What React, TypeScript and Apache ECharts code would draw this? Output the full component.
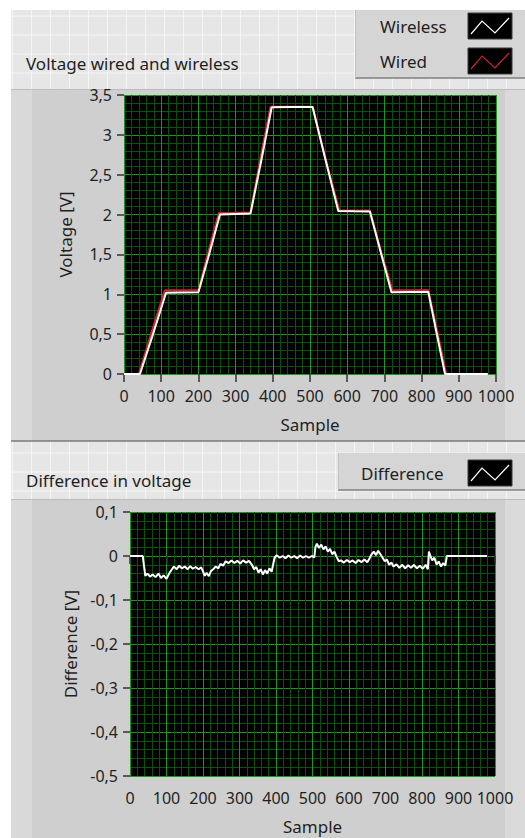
import React, { useEffect, useRef } from "react";
import * as echarts from "echarts";

// Sample index vs. measured voltage for the two channels
const wirelessVoltage: [number, number][] = [
  [0, 0], [43, 0], [78, 0.5], [113, 1.02], [150, 1.022], [200, 1.025],
  [230, 1.52], [258, 2.0], [300, 2.008], [340, 2.012], [370, 2.7],
  [397, 3.345], [450, 3.348], [507, 3.35], [540, 2.72], [576, 2.045],
  [620, 2.042], [661, 2.04], [690, 1.53], [719, 1.025], [770, 1.028],
  [818, 1.03], [840, 0.52], [863, 0], [920, 0], [978, 0],
];

const wiredVoltage: [number, number][] = [
  [0, 0], [40, 0], [75, 0.54], [110, 1.05], [150, 1.05], [200, 1.052],
  [228, 1.56], [255, 2.02], [300, 2.022], [340, 2.025], [368, 2.74],
  [394, 3.352], [450, 3.352], [507, 3.352], [542, 2.7], [579, 2.05],
  [620, 2.05], [661, 2.05], [692, 1.52], [722, 1.05], [770, 1.052],
  [818, 1.055], [842, 0.54], [866, 0], [920, 0], [978, 0],
];

// Wireless minus wired, per sample
const voltageDifference: [number, number][] = [
  [0, 0], [35, 0], [38, -0.02], [42, -0.045], [48, -0.04], [55, -0.047],
  [62, -0.042], [70, -0.048], [78, -0.04], [85, -0.05], [92, -0.044],
  [100, -0.052], [106, -0.042], [110, -0.036], [115, -0.03], [120, -0.024],
  [128, -0.03], [135, -0.022], [142, -0.028], [150, -0.024], [158, -0.03],
  [165, -0.023], [172, -0.029], [180, -0.025], [188, -0.03], [195, -0.026],
  [200, -0.035], [205, -0.045], [210, -0.038], [216, -0.046], [222, -0.034],
  [228, -0.03], [235, -0.024], [242, -0.028], [248, -0.018], [255, -0.022],
  [262, -0.012], [270, -0.016], [278, -0.01], [286, -0.016], [294, -0.011],
  [302, -0.017], [310, -0.01], [318, -0.015], [326, -0.011], [334, -0.02],
  [340, -0.03], [346, -0.025], [352, -0.038], [358, -0.03], [364, -0.042],
  [370, -0.032], [376, -0.04], [382, -0.028], [388, -0.036], [392, -0.02],
  [396, -0.004], [402, 0.002], [410, -0.004], [418, 0], [426, -0.005],
  [434, 0.001], [442, -0.004], [450, 0], [458, -0.005], [466, 0.001],
  [474, -0.004], [482, 0], [490, -0.004], [498, 0], [505, -0.003],
  [508, 0.02], [512, 0.028], [518, 0.018], [524, 0.026], [530, 0.015],
  [536, 0.022], [542, 0.01], [548, 0.016], [554, 0.004], [560, 0.01],
  [566, -0.002], [572, -0.012], [578, -0.01], [586, -0.015], [594, -0.009],
  [602, -0.014], [610, -0.01], [618, -0.016], [626, -0.009], [634, -0.014],
  [642, -0.008], [650, -0.014], [656, -0.006], [662, 0.004], [668, 0.01],
  [674, 0.002], [680, 0.012], [686, 0.004], [692, -0.004], [698, -0.012],
  [704, -0.008], [710, -0.02], [716, -0.015], [722, -0.024], [730, -0.019],
  [738, -0.027], [746, -0.02], [754, -0.028], [762, -0.021], [770, -0.027],
  [778, -0.02], [786, -0.028], [794, -0.022], [802, -0.029], [810, -0.02],
  [816, -0.03], [819, 0.01], [823, 0], [828, -0.01], [834, -0.004],
  [840, -0.02], [846, -0.012], [852, -0.024], [858, -0.016], [864, -0.022],
  [868, 0], [978, 0],
];

const FONT = '"Noto Sans", "DejaVu Sans", sans-serif';
const W = 525;
const H = 838;
const TEXT = "#1f1f1f";
const MAJOR_GRID = "#1e961e";
const MINOR_GRID = "#0b500b";
const TITLE_SIZE = 17;
const TICK_SIZE = 16;

const decimalComma = (v: number) =>
  v === 0 ? "0" : String(+v.toFixed(2)).replace(".", ",");

function xAxisFor(gridIndex: number) {
  return {
    type: "value",
    gridIndex,
    min: 0,
    max: 1000,
    interval: 100,
    offset: 4,
    name: "Sample",
    nameLocation: "middle",
    nameGap: 38,
    nameTextStyle: { fontFamily: FONT, fontSize: TITLE_SIZE, color: TEXT },
    axisLine: { show: false },
    axisTick: { show: true, length: 8, lineStyle: { color: "#333", width: 1.5 } },
    axisLabel: {
      margin: 10,
      fontFamily: FONT,
      fontSize: TICK_SIZE,
      color: TEXT,
      formatter: (v: number) => String(v),
      hideOverlap: false,
      showMinLabel: true,
      showMaxLabel: true,
    },
    splitLine: { show: true, lineStyle: { color: MAJOR_GRID, width: 1 } },
    minorTick: { show: false, splitNumber: 5 },
    minorSplitLine: { show: true, lineStyle: { color: MINOR_GRID, width: 1 } },
  };
}

function yAxisFor(gridIndex: number, name: string, min: number, max: number, interval: number) {
  return {
    type: "value",
    gridIndex,
    min,
    max,
    interval,
    offset: 2,
    name,
    nameLocation: "middle",
    nameGap: 48,
    nameTextStyle: { fontFamily: FONT, fontSize: TITLE_SIZE, color: TEXT },
    axisLine: { show: false },
    axisTick: { show: true, length: 7, lineStyle: { color: "#333", width: 1.5 } },
    axisLabel: {
      margin: 10,
      fontFamily: FONT,
      fontSize: TICK_SIZE,
      color: TEXT,
      formatter: decimalComma,
      showMinLabel: true,
      showMaxLabel: true,
    },
    splitLine: { show: true, lineStyle: { color: MAJOR_GRID, width: 1 } },
    minorTick: { show: false, splitNumber: 5 },
    minorSplitLine: { show: true, lineStyle: { color: MINOR_GRID, width: 1 } },
  };
}

function panelGraphics() {
  const els: any[] = [];
  // front panel background with its alignment grid
  els.push({ type: "rect", z: -30, shape: { x: 11, y: 10, width: W - 11, height: H - 10 }, style: { fill: "#e6e6e6" } });
  for (let x = 12.5; x < W; x += 19) {
    els.push({ type: "line", z: -29, shape: { x1: x, y1: 10, x2: x, y2: H }, style: { stroke: "#f5f5f5", lineWidth: 1 } });
  }
  for (let y = 16; y < H; y += 19) {
    els.push({ type: "line", z: -29, shape: { x1: 11, y1: y, x2: W, y2: y }, style: { stroke: "#f5f5f5", lineWidth: 1 } });
  }

  // graph frames
  const frame = (top: number, bottom: number) => {
    els.push({ type: "rect", z: -20, shape: { x: 11, y: top, width: W - 11, height: bottom - top }, style: { fill: "#cfcfcf" } });
    els.push({ type: "rect", z: -19, shape: { x: 11, y: top, width: 21, height: bottom - top }, style: { fill: "#d9d9d9" } });
    els.push({ type: "rect", z: -19, shape: { x: 505, y: top, width: 20, height: bottom - top }, style: { fill: "#dadada" } });
    els.push({ type: "line", z: -18, shape: { x1: 11, y1: top + 0.5, x2: W, y2: top + 0.5 }, style: { stroke: "#bcbcbc", lineWidth: 1 } });
    if (bottom < H) {
      els.push({ type: "line", z: -18, shape: { x1: 11, y1: bottom, x2: W, y2: bottom }, style: { stroke: "#7a7a7a", lineWidth: 1.5 } });
    }
  };
  frame(89, 441);
  frame(499, H);

  // plot legends
  const legendBox = (x: number, y: number, h: number) => {
    els.push({ type: "rect", z: -15, shape: { x, y, width: W - x, height: h }, style: { fill: "#d5d5d5" } });
    els.push({ type: "line", z: -14, shape: { x1: x, y1: y + h, x2: W, y2: y + h }, style: { stroke: "#7f7f7f", lineWidth: 1.5 } });
    els.push({ type: "line", z: -14, shape: { x1: x + 0.5, y1: y, x2: x + 0.5, y2: y + h }, style: { stroke: "#c2c2c2", lineWidth: 1 } });
  };
  const legendEntry = (label: string, textX: number, top: number, color: string) => {
    els.push({
      type: "text", z: 20, x: textX, y: top + 13,
      style: { text: label, fontFamily: FONT, fontSize: TITLE_SIZE, fill: TEXT, verticalAlign: "middle", align: "left" },
    });
    els.push({ type: "rect", z: 20, shape: { x: 468, y: top, width: 44, height: 26 }, style: { fill: "#000", stroke: "#3a3a3a", lineWidth: 1 } });
    els.push({
      type: "polyline", z: 21,
      shape: { points: [[471, top + 21], [482, top + 8], [495, top + 20], [509, top + 5]] },
      style: { stroke: color, lineWidth: 1.2, fill: "none" },
    });
  };
  legendBox(355, 10, 68);
  legendEntry("Wireless", 380, 13, "#ffffff");
  legendEntry("Wired", 380, 48, "#d2202c");
  legendBox(338, 453, 37);
  legendEntry("Difference", 361, 460, "#ffffff");

  // graph captions
  els.push({ type: "text", z: 20, x: 26, y: 63, style: { text: "Voltage wired and wireless", fontFamily: FONT, fontSize: TITLE_SIZE, fill: TEXT, verticalAlign: "middle" } });
  els.push({ type: "text", z: 20, x: 26, y: 480, style: { text: "Difference in voltage", fontFamily: FONT, fontSize: TITLE_SIZE, fill: TEXT, verticalAlign: "middle" } });
  return els;
}

export default function App() {
  const ref = useRef<HTMLDivElement>(null);

  useEffect(() => {
    if (!ref.current) return;
    const chart = echarts.init(ref.current, undefined, { renderer: "svg" });
    chart.setOption({
      animation: false,
      backgroundColor: "#ffffff",
      graphic: { elements: panelGraphics() },
      grid: [
        { left: 124, right: W - 496, top: 95, height: 279, show: true, backgroundColor: "#000", borderWidth: 0 },
        { left: 130, right: W - 495, top: 512, height: 264, show: true, backgroundColor: "#000", borderWidth: 0 },
      ],
      xAxis: [xAxisFor(0), xAxisFor(1)],
      yAxis: [
        yAxisFor(0, "Voltage [V]", 0, 3.5, 0.5),
        yAxisFor(1, "Difference [V]", -0.5, 0.1, 0.1),
      ],
      series: [
        {
          name: "Wired", type: "line", xAxisIndex: 0, yAxisIndex: 0, data: wiredVoltage,
          showSymbol: false, lineStyle: { color: "#d2202c", width: 2 }, itemStyle: { color: "#d2202c" }, z: 3,
        },
        {
          name: "Wireless", type: "line", xAxisIndex: 0, yAxisIndex: 0, data: wirelessVoltage,
          showSymbol: false, lineStyle: { color: "#ffffff", width: 2 }, itemStyle: { color: "#ffffff" }, z: 4,
        },
        {
          name: "Difference", type: "line", xAxisIndex: 1, yAxisIndex: 1, data: voltageDifference,
          showSymbol: false, lineStyle: { color: "#ffffff", width: 2 }, itemStyle: { color: "#ffffff" }, z: 4,
        },
      ],
    });
    return () => chart.dispose();
  }, []);

  return (
    <div
      ref={ref}
      style={{ position: "fixed", left: 0, top: 0, width: W, height: H }}
    />
  );
}
